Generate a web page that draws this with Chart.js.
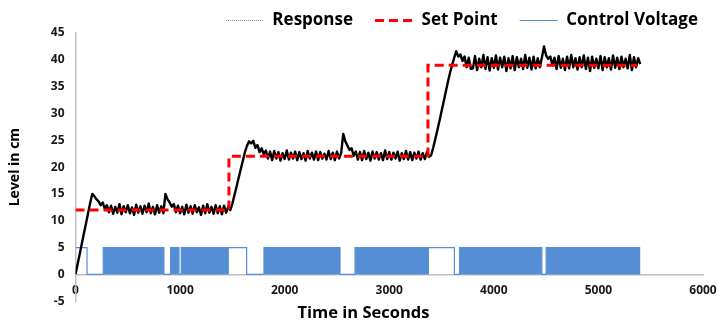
<!DOCTYPE html>
<html lang="en">
<head>
    <meta charset="UTF-8">
    <title>Level Response</title>
    <script src="https://cdn.jsdelivr.net/npm/chart.js"></script>
    <style>
        * { margin: 0; padding: 0; box-sizing: border-box; }
        body { background: white; width: 717px; height: 325px; overflow: hidden; }
        .chart-box { position: relative; width: 717px; height: 325px; }
    </style>
</head>
<body>
    <div class="chart-box">
        <canvas id="levelChart"></canvas>
    </div>

    <script>
        const sampleStep = 20;
        const responseLevels = [
            0, 1.9, 3.8, 5.7, 7.6, 9.5, 11.4, 13.3, 15.0, 14.6,          // 0
            14.0, 13.6, 12.9, 13.4, 12.2, 12.9, 11.6, 12.8, 11.3, 12.6,  // 200
            11.5, 13.1, 11.2, 12.7, 11.6, 12.9, 11.4, 12.5, 11.1, 13.0,  // 400
            11.5, 12.7, 11.3, 12.8, 11.6, 13.2, 11.4, 12.6, 11.2, 12.9,  // 600
            11.5, 12.7, 11.4, 15.0, 14.0, 13.4, 12.6, 13.1, 11.6, 12.8,  // 800
            11.4, 12.6, 11.2, 13.0, 11.5, 12.7, 11.3, 12.9, 11.6, 12.5,  // 1000
            11.1, 12.8, 11.4, 13.1, 11.5, 12.6, 11.3, 12.9, 11.4, 12.7,  // 1200
            11.2, 12.8, 11.5, 12.6, 12.0, 13.2, 14.8, 16.4, 18.0, 19.6,  // 1400
            21.2, 22.8, 24.0, 24.8, 24.4, 24.9, 23.6, 24.1, 22.8, 23.5,  // 1600
            22.4, 23.1, 21.6, 22.9, 21.3, 23.0, 21.6, 22.8, 21.2, 22.6,  // 1800
            21.5, 23.1, 21.4, 22.7, 21.6, 22.9, 21.3, 22.8, 21.5, 22.6,  // 2000
            21.2, 23.0, 21.6, 22.7, 21.4, 22.9, 21.3, 22.8, 21.6, 22.5,  // 2200
            21.4, 23.0, 21.5, 22.7, 21.3, 22.9, 21.6, 22.6, 26.2, 24.8,  // 2400
            24.0, 23.2, 23.5, 22.1, 22.9, 21.4, 22.8, 21.3, 23.0, 21.5,  // 2600
            22.7, 21.2, 22.9, 21.6, 22.8, 21.4, 22.6, 21.3, 23.1, 21.5,  // 2800
            22.8, 21.4, 22.7, 21.6, 22.9, 21.2, 22.6, 21.5, 23.0, 21.4,  // 3000
            22.8, 21.3, 22.7, 21.6, 22.9, 21.4, 22.6, 21.5, 22.8, 21.9,  // 3200
            22.2, 23.6, 25.2, 26.9, 28.6, 30.4, 32.2, 34.0, 35.8, 37.5,  // 3400
            39.0, 40.3, 41.6, 40.6, 41.0, 39.8, 40.6, 38.6, 40.4, 38.3,  // 3600
            38.4, 40.7, 38.1, 40.2, 38.6, 40.9, 38.3, 40.5, 38.0, 40.3,  // 3800
            38.5, 40.8, 38.2, 40.4, 38.6, 40.6, 37.9, 40.3, 38.4, 40.7,  // 4000
            38.1, 40.5, 38.6, 40.2, 38.3, 40.9, 38.5, 40.4, 38.2, 40.6,  // 4200
            38.4, 40.3, 38.6, 40.5, 42.5, 40.8, 40.2, 40.6, 39.0, 40.4,  // 4400
            38.3, 40.7, 38.5, 40.2, 38.1, 40.6, 38.4, 40.9, 38.6, 40.3,  // 4600
            38.2, 40.5, 38.6, 40.8, 38.3, 40.4, 37.9, 40.6, 38.5, 40.2,  // 4800
            38.4, 40.7, 38.1, 40.5, 38.6, 40.3, 38.2, 40.8, 38.5, 40.4,  // 5000
            38.3, 40.6, 38.6, 40.2, 38.4, 40.9, 38.1, 40.5, 38.6, 40.3,  // 5200
            39.2                                                          // 5400
        ];

        // Set point steps (time in s, level in cm)
        const setPointTimes = [0, 1467, 3370, 5370];
        const setPointLevels = [12, 22, 39, 39];

        // Control voltage switching edges
        const voltageTimes = [0, 110, 265, 845, 909, 989, 1011, 1636, 1802, 2529, 2673, 3623, 3672, 4459, 4500, 5394];
        const voltageLevels = [5, 0, 5, 0, 5, 0, 5, 0, 5, 0, 5, 0, 5, 0, 5, 0];
        // periods where the voltage chatters between 0 and 5 V (solid blocks)
        const switchingBlocks = [[265, 845], [909, 989], [1011, 1467], [1802, 2529], [2673, 3381], [3672, 4459], [4500, 5394]];

        const xTicks = [0, 1000, 2000, 3000, 4000, 5000, 6000];
        const yTicks = [-5, 0, 5, 10, 15, 20, 25, 30, 35, 40, 45];

        const blue = '#558ED5';
        const fontFamily = "'Open Sans', Lato, sans-serif";

        const responseData = responseLevels.map((v, i) => ({ x: i * sampleStep, y: v }));
        const setPointData = setPointTimes.map((t, i) => ({ x: t, y: setPointLevels[i] }));
        const voltageData = voltageTimes.map((t, i) => ({ x: t, y: voltageLevels[i] }));
        const blockData = [];
        switchingBlocks.forEach(b => {
            blockData.push({ x: b[0], y: 5 }, { x: b[1], y: 5 }, { x: b[1], y: null });
        });

        // legend line samples, as in the original
        const legendStyles = {
            'Response': { strokeStyle: '#808080', lineDash: [1, 1], lineWidth: 1 },
            'Set Point': { strokeStyle: '#FF0000', lineDash: [9, 5], lineWidth: 3 },
            'Control Voltage': { strokeStyle: blue, lineDash: [], lineWidth: 1.2 }
        };

        // push legend down a little without moving the plot area
        const legendNudge = {
            id: 'legendNudge',
            afterLayout(chart) {
                chart.legend.top += 6;
                chart.legend.bottom += 6;
            }
        };

        const ctx = document.getElementById('levelChart').getContext('2d');
        new Chart(ctx, {
            type: 'line',
            data: {
                datasets: [
                    {
                        label: 'Response',
                        data: responseData,
                        borderColor: '#000000',
                        borderWidth: 2.4,
                        borderJoinStyle: 'round',
                        pointRadius: 0,
                        order: 1
                    },
                    {
                        label: 'Set Point',
                        data: setPointData,
                        borderColor: '#FF0000',
                        borderWidth: 3,
                        borderDash: [9, 5],
                        stepped: 'before',
                        pointRadius: 0,
                        order: 0
                    },
                    {
                        label: 'Control Voltage',
                        data: voltageData,
                        borderColor: blue,
                        borderWidth: 1.2,
                        stepped: 'before',
                        pointRadius: 0,
                        order: 2
                    },
                    {
                        label: 'blocks',
                        data: blockData,
                        borderWidth: 0,
                        borderColor: blue,
                        backgroundColor: blue,
                        fill: 'origin',
                        spanGaps: false,
                        pointRadius: 0,
                        order: 3
                    }
                ]
            },
            plugins: [legendNudge],
            options: {
                responsive: true,
                maintainAspectRatio: false,
                animation: false,
                layout: {
                    padding: { top: -16, right: -3, bottom: 2, left: 7 }
                },
                plugins: {
                    tooltip: { enabled: false },
                    legend: {
                        position: 'top',
                        align: 'end',
                        labels: {
                            usePointStyle: true,
                            pointStyle: 'line',
                            pointStyleWidth: 38,
                            padding: 22,
                            color: '#000',
                            font: { family: fontFamily, size: 17, weight: 'bold' },
                            filter: item => item.text !== 'blocks',
                            sort: (a, b) => a.datasetIndex - b.datasetIndex,
                            generateLabels: chart => {
                                const items = Chart.defaults.plugins.legend.labels.generateLabels(chart);
                                items.forEach(it => {
                                    const s = legendStyles[it.text];
                                    if (s) Object.assign(it, s);
                                });
                                return items;
                            }
                        }
                    },
                    title: {
                        display: true,
                        position: 'bottom',
                        text: 'Time in Seconds',
                        color: '#000',
                        font: { family: fontFamily, size: 16.5, weight: 'bold' },
                        padding: { top: 2, bottom: 0 }
                    }
                },
                scales: {
                    x: {
                        type: 'linear',
                        position: { y: 0 },
                        min: 0,
                        max: 6000,
                        afterBuildTicks: axis => { axis.ticks = xTicks.map(v => ({ value: v })); },
                        afterFit: axis => { axis.paddingRight = 14; axis.paddingLeft = 5; },
                        grid: { display: false, drawTicks: false },
                        border: { display: true, color: '#BFBFBF', width: 1.5 },
                        ticks: {
                            padding: 9,
                            color: '#1a1a1a',
                            font: { family: fontFamily, size: 12, weight: 'bold' },
                            maxRotation: 0,
                            callback: value => String(value)
                        }
                    },
                    y: {
                        min: -5,
                        max: 45,
                        afterBuildTicks: axis => { axis.ticks = yTicks.map(v => ({ value: v })); },
                        grid: { display: false, drawTicks: false },
                        border: { display: true, color: '#BFBFBF', width: 1.5 },
                        ticks: {
                            padding: 11,
                            color: '#1a1a1a',
                            font: { family: fontFamily, size: 12, weight: 'bold' }
                        },
                        title: {
                            display: true,
                            text: 'Level in cm',
                            color: '#000',
                            font: { family: fontFamily, size: 14, weight: 'bold' },
                            padding: { top: 0, bottom: 16 }
                        }
                    }
                }
            }
        });
    </script>
</body>
</html>
